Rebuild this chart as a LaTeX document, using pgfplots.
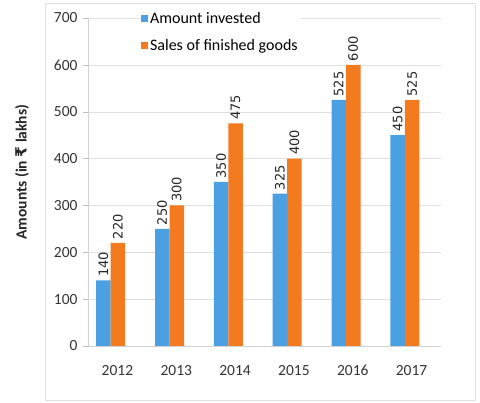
\documentclass[border=0pt]{standalone}
\usepackage{pgfplots}
\pgfplotsset{compat=1.18}
\usepackage{fontspec}
\setmainfont{Carlito}
\newfontfamily\dv{DejaVu Sans}
\definecolor{cblue}{HTML}{4BA0E2}
\definecolor{corange}{HTML}{F47A20}
\begin{document}
\begin{tikzpicture}
\path (0pt,0pt) rectangle (480pt,403pt);
\draw[black!12] (45pt,3pt) rectangle (475pt,400pt);
\begin{axis}[
  at={(88pt,57pt)}, anchor=south west,
  scale only axis, width=353pt, height=328pt,
  xmin=-0.5, xmax=5.5, ymin=0, ymax=700,
  /pgf/number format/assume math mode=true,
  ybar, bar width=14.5pt,
  axis x line=bottom, axis y line=left,
  axis line style={-, gray!35},
  xtick={0,1,2,3,4,5},
  xticklabels={2012,2013,2014,2015,2016,2017},
  xtick style={draw=none},
  ytick={0,100,...,700},
  ytick style={gray!50},
  major tick length=5pt, tick align=outside,
  ymajorgrids, grid style={gray!25},
  tick label style={font=\fontsize{15.5}{15.5}\selectfont, text=black!80},
  yticklabel style={xshift=-2pt},
  xticklabel style={yshift=-11pt},
  ylabel={\bfseries Amounts (in {\dv\bfseries ₹} lakhs)},
  ylabel style={at={(axis description cs:-0.187,0.53)}, anchor=center, font=\fontsize{15.5}{15.5}\selectfont, text=black!85},
  clip=false,
  nodes near coords,
  every node near coord/.append style={rotate=90, anchor=west, font=\dv\fontsize{13}{13}\selectfont, text=black!85, inner sep=3.5pt},
  legend style={at={(0.147,1.028)}, anchor=north west, draw=none, fill=white, row sep=11pt, font=\fontsize{16}{16}\selectfont, inner sep=1pt},
  legend cell align=left,
  legend image code/.code={\fill[#1] (0pt,-3.5pt) rectangle (7pt,3.5pt);},
]
\addplot[fill=cblue, draw=none, bar shift=-14pt] coordinates {(0,140) (1,250) (2,350) (3,325) (4,525) (5,450)};
\addplot[fill=corange, draw=none, bar shift=0.5pt] coordinates {(0,220) (1,300) (2,475) (3,400) (4,600) (5,525)};
\legend{Amount invested, Sales of finished goods}
\end{axis}
\end{tikzpicture}
\end{document}
